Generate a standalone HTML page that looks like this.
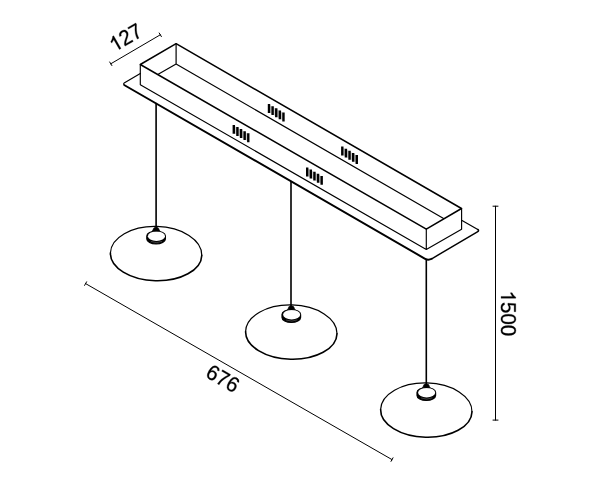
<!DOCTYPE html>
<html>
<head>
<meta charset="utf-8">
<style>
html,body{margin:0;padding:0;background:#fff;}
body{width:600px;height:486px;overflow:hidden;}
svg{display:block;}
text{font-family:"Liberation Sans",sans-serif;font-size:20.5px;fill:#000;}
</style>
</head>
<body>
<svg width="600" height="486" viewBox="0 0 600 486">
<rect width="600" height="486" fill="#fff"/>
<g fill="none" stroke="#000" stroke-linecap="round" stroke-linejoin="round">
  <!-- plate -->
  <path d="M140.30 73.50 L124.56 82.73 C123.37 83.43 123.37 84.56 124.56 85.25 M477.79 229.50 L461.60 220.15" stroke-width="1.2"/>
  <path d="M124.56 85.25 L425.11 258.80 C426.93 259.85 429.87 259.84 431.68 258.78" stroke-width="1.95"/>
  <path d="M431.68 258.78 L477.80 231.71 C478.85 231.10 478.85 230.11 477.79 229.50" stroke-width="1.45"/>
  <!-- box top thick edges -->
  <path d="M140.3 64.5 L176.1 43.7 L461.5 208.5 L426.3 229.2 Z" stroke-width="1.5"/>
  <!-- box verticals + bottom -->
  <path d="M140.3 64.5 V84.8 L426.3 249.5 L461.6 229.3 V208.5 M426.3 229.2 V249.5" stroke-width="1.15"/>
  <!-- inner -->
  <path d="M176.1 43.7 V64 L158.2 74.3 M176.1 64 L443.6 218.5" stroke-width="1.2"/>
  <!-- cords -->
  <path d="M156.1 103.6 V228 M291 181.6 V306 M426.3 259.6 V384" stroke-width="1.6"/>
  <!-- dimension lines -->
  <g stroke-width="1">
    <path d="M110.8 63.8 L160.3 34.8 M109.7 62 L111.9 65.6 M159.2 33 L161.4 36.6"/>
    <path d="M85.6 283.6 L392 459.6 M86.6 281.8 L84.6 285.4 M393 457.8 L391 461.4"/>
    <path d="M495.5 206.2 V420.1 M493 206.2 H498 M493 420.1 H498"/>
  </g>
</g>
<defs>
  <path id="d0" d="M1059 705Q1059 352 934.5 166.0Q810 -20 567 -20Q324 -20 202.0 165.0Q80 350 80 705Q80 1068 198.5 1249.0Q317 1430 573 1430Q822 1430 940.5 1247.0Q1059 1064 1059 705ZM876 705Q876 1010 805.5 1147.0Q735 1284 573 1284Q407 1284 334.5 1149.0Q262 1014 262 705Q262 405 335.5 266.0Q409 127 569 127Q728 127 802.0 269.0Q876 411 876 705Z"/>
  <path id="d1" d="M763 0H583V1102Q518 1042 412.5 983T223 894V1061Q374 1129 487 1226T647 1409H763Z"/>
  <path id="d2" d="M103 0V127Q154 244 227.5 333.5Q301 423 382.0 495.5Q463 568 542.5 630.0Q622 692 686.0 754.0Q750 816 789.5 884.0Q829 952 829 1038Q829 1154 761.0 1218.0Q693 1282 572 1282Q457 1282 382.5 1219.5Q308 1157 295 1044L111 1061Q131 1230 254.5 1330.0Q378 1430 572 1430Q785 1430 899.5 1329.5Q1014 1229 1014 1044Q1014 962 976.5 881.0Q939 800 865.0 719.0Q791 638 582 468Q467 374 399.0 298.5Q331 223 301 153H1036V0Z"/>
  <path id="d5" d="M1053 459Q1053 236 920.5 108.0Q788 -20 553 -20Q356 -20 235.0 66.0Q114 152 82 315L264 336Q321 127 557 127Q702 127 784.0 214.5Q866 302 866 455Q866 588 783.5 670.0Q701 752 561 752Q488 752 425.0 729.0Q362 706 299 651H123L170 1409H971V1256H334L307 809Q424 899 598 899Q806 899 929.5 777.0Q1053 655 1053 459Z"/>
  <path id="d6" d="M1049 461Q1049 238 928.0 109.0Q807 -20 594 -20Q356 -20 230.0 157.0Q104 334 104 672Q104 1038 235.0 1234.0Q366 1430 608 1430Q927 1430 1010 1143L838 1112Q785 1284 606 1284Q452 1284 367.5 1140.5Q283 997 283 725Q332 816 421.0 863.5Q510 911 625 911Q820 911 934.5 789.0Q1049 667 1049 461ZM866 453Q866 606 791.0 689.0Q716 772 582 772Q456 772 378.5 698.5Q301 625 301 496Q301 333 381.5 229.0Q462 125 588 125Q718 125 792.0 212.5Q866 300 866 453Z"/>
  <path id="d7" d="M1036 1263Q820 933 731.0 746.0Q642 559 597.5 377.0Q553 195 553 0H365Q365 270 479.5 568.5Q594 867 862 1256H105V1409H1036Z"/>
  <g id="v" stroke="#000" stroke-width="2.4" stroke-linecap="butt" fill="none"><path d="M0 -3.6 L14.48 4.8 V12.4 L0 4 Z" fill="#000" fill-opacity="0.2" stroke="none"/><path d="M0 -4.2V4.7 M3.62 -2.1V6.8 M7.24 0V8.9 M10.86 2.1V11 M14.48 4.2V13.1"/></g>
  <g id="lamp" fill="none" stroke="#000">
    <g transform="translate(0 0.7) rotate(1.5)">
      <path d="M-45.7 0 A45.7 27.8 0 0 1 45.7 0" stroke-width="1.2"/>
      <path d="M-45.7 0 A45.7 26.5 0 0 0 45.7 0" stroke-width="1.6" stroke-linecap="round"/>
    </g>
    <path d="M-9.3 -17.4 v2.9 a9.3 5 0 0 0 18.6 0 v-2.9 a9.3 5 0 0 0 -18.6 0 z" fill="#000" stroke-width="1.2"/>
    <ellipse cx="0.35" cy="-17.3" rx="8.55" ry="4.75" fill="#fff" stroke="none"/>
    <path d="M-5.2 -12.0 A8.9 4.7 0 0 0 6 -12.15" stroke="#fff" stroke-opacity="0.5" stroke-width="0.5"/>
    <path d="M-4 -22.4 Q-3.1 -23 -2.8 -24.5 Q-2.5 -26.3 0 -26.3 Q2.5 -26.3 2.8 -24.5 Q3.1 -23 4 -22.4 Z" fill="#000" stroke-width="0.6" stroke-linejoin="round"/>
  </g>
</defs>
<use href="#v" x="269" y="108.3"/>
<use href="#v" x="233.8" y="129.1"/>
<use href="#v" x="342.3" y="150.8"/>
<use href="#v" x="307.2" y="171.7"/>
<use href="#lamp" x="156.1" y="253.5"/>
<use href="#lamp" x="291.3" y="332"/>
<use href="#lamp" x="426.3" y="410"/>
<g fill="#000" stroke="#000" stroke-width="28" transform="translate(125.5 37.4) rotate(-30) scale(0.010010 -0.010410) translate(-1708.5 -704)"><use href="#d1" x="0"/><use href="#d2" x="1139"/><use href="#d7" x="2278"/></g>
<g fill="#000" stroke="#000" stroke-width="28" transform="translate(222.9 378.5) rotate(30) scale(0.010010 -0.010410) translate(-1708.5 -704)"><use href="#d6" x="0"/><use href="#d7" x="1139"/><use href="#d6" x="2278"/></g>
<g fill="#000" stroke="#000" stroke-width="28" transform="translate(508.4 313.4) rotate(90) scale(0.010010 -0.010410) translate(-2278.0 -704)"><use href="#d1" x="0"/><use href="#d5" x="1139"/><use href="#d0" x="2278"/><use href="#d0" x="3417"/></g>
</svg>
</body>
</html>
